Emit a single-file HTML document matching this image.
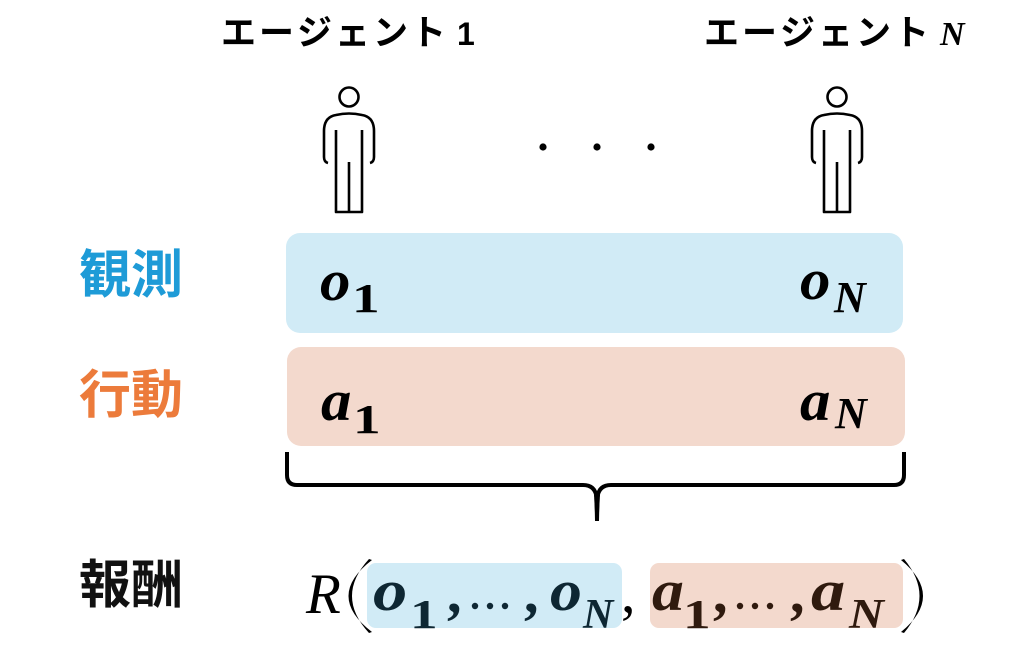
<!DOCTYPE html>
<html>
<head>
<meta charset="utf-8">
<style>
  html,body{margin:0;padding:0;background:#fff;}
  body{width:1024px;height:651px;overflow:hidden;}
  svg{display:block;}
  .jp{font-family:"Liberation Sans","Noto Sans CJK JP",sans-serif;font-weight:bold;}
  .mi{font-family:"Liberation Serif",serif;font-style:italic;font-weight:bold;}
  .mr{font-family:"Liberation Serif",serif;font-weight:bold;}
  .ri{font-family:"Liberation Serif",serif;font-style:italic;}
  .rr{font-family:"Liberation Serif",serif;}
</style>
</head>
<body>
<svg width="1024" height="651" viewBox="0 0 1024 651" xmlns="http://www.w3.org/2000/svg">
  <!-- Agent labels -->
  <text class="jp" font-size="35" y="45" fill="#000"><tspan x="221">エ</tspan><tspan x="259">ー</tspan><tspan x="297">ジ</tspan><tspan x="335">ェ</tspan><tspan x="373">ン</tspan><tspan x="411">ト</tspan></text>
  <text font-family="Liberation Sans, sans-serif" font-weight="bold" font-size="32" x="457" y="45" fill="#000">1</text>

  <text class="jp" font-size="35" y="45" fill="#000"><tspan x="704">エ</tspan><tspan x="742">ー</tspan><tspan x="780">ジ</tspan><tspan x="818">ェ</tspan><tspan x="856">ン</tspan><tspan x="894">ト</tspan></text>
  <text class="mi" font-size="34" x="940" y="45" fill="#000">N</text>

  <!-- Person icons -->
  <g fill="none" stroke="#000" stroke-width="2.6" stroke-linejoin="round">
    <circle cx="349" cy="97" r="9.5"/>
    <path d="M328,163 Q324,162 324,157 L324,131 Q324,117 336,115 Q349,112 362,115 Q374,117 374,131 L374,157 Q374,162 370,163"/>
    <path d="M336,130 L336,212 L362,212 L362,130"/>
    <path d="M349,162 L349,212"/>
  </g>
  <g transform="translate(488,0)" fill="none" stroke="#000" stroke-width="2.6" stroke-linejoin="round">
    <circle cx="349" cy="97" r="9.5"/>
    <path d="M328,163 Q324,162 324,157 L324,131 Q324,117 336,115 Q349,112 362,115 Q374,117 374,131 L374,157 Q374,162 370,163"/>
    <path d="M336,130 L336,212 L362,212 L362,130"/>
    <path d="M349,162 L349,212"/>
  </g>

  <!-- dots -->
  <circle cx="543" cy="147" r="3.6" fill="#000"/>
  <circle cx="597" cy="147" r="3.6" fill="#000"/>
  <circle cx="651" cy="147" r="3.6" fill="#000"/>

  <!-- Row labels -->
  <text class="jp" font-size="52" x="79" y="293" fill="#1e9bd7">観測</text>
  <text class="jp" font-size="52" x="79" y="413" fill="#ec7b3b">行動</text>
  <text class="jp" font-size="52" x="79" y="603" fill="#111">報酬</text>

  <!-- boxes -->
  <rect x="286" y="233" width="617" height="100" rx="14" ry="14" fill="#d1ebf6"/>
  <rect x="287" y="347" width="618" height="99" rx="14" ry="14" fill="#f3d9cd"/>

  <!-- o_1, o_N -->
  <text class="mi" font-size="58" transform="translate(320,300) scale(1.05,1)" fill="#000">o</text>
  <text class="mr" font-size="41" transform="translate(352,312) scale(1.35,1)" fill="#000">1</text>
  <text class="mi" font-size="58" transform="translate(800,299) scale(1.05,1)" fill="#000">o</text>
  <text class="mi" font-size="44" x="834" y="312" fill="#000">N</text>

  <!-- a_1, a_N -->
  <text class="mi" font-size="58" transform="translate(321,420) scale(1.05,1)" fill="#000">a</text>
  <text class="mr" font-size="41" transform="translate(353,433) scale(1.35,1)" fill="#000">1</text>
  <text class="mi" font-size="58" transform="translate(800,420) scale(1.05,1)" fill="#000">a</text>
  <text class="mi" font-size="44" x="835" y="428" fill="#000">N</text>

  <!-- brace -->
  <path d="M287,452 L287,475 Q287,485 297,485 L583,485 Q595,485 596.5,497 L597,521" fill="none" stroke="#000" stroke-width="4"/>
  <path d="M904,452 L904,475 Q904,485 894,485 L611,485 Q599,485 597.5,497 L597,521" fill="none" stroke="#000" stroke-width="4"/>
  <path d="M594,495 L600,495 L598.5,521 L595.5,521 Z" fill="#000"/>

  <!-- formula -->
  <rect x="367" y="563" width="255" height="65" rx="9" ry="9" fill="#d1ebf6"/>
  <rect x="650" y="563" width="253" height="65" rx="9" ry="9" fill="#f3d9cd"/>

  <text class="ri" font-size="57" x="306" y="613" fill="#000">R</text>
  <!-- parentheses -->
  <path d="M372,560 Q325,596 372,632 L369,633 Q335,596 369,559 Z" fill="#000"/>
  <path d="M901,560 Q945,596 901,632 L904,633 Q935,596 904,559 Z" fill="#000"/>

  <text class="mi" font-size="58" transform="translate(373,610) scale(1.18,1)" fill="#0e2733">o</text>
  <text class="mr" font-size="41" transform="translate(410,628) scale(1.35,1)" fill="#0e2733">1</text>
  <text class="mr" font-size="58" x="447" y="612" fill="#0e2733">,</text>
  <circle cx="475" cy="606" r="3.2" fill="#0e2733"/>
  <circle cx="490" cy="606" r="3.2" fill="#0e2733"/>
  <circle cx="505" cy="606" r="3.2" fill="#0e2733"/>
  <text class="mr" font-size="58" x="524" y="612" fill="#0e2733">,</text>
  <text class="mi" font-size="58" transform="translate(550,610) scale(1.1,1)" fill="#0e2733">o</text>
  <text class="mi" font-size="42" x="583" y="628" fill="#0e2733">N</text>

  <text class="rr" font-size="58" x="621" y="612" fill="#000">,</text>

  <text class="mi" font-size="58" transform="translate(652,610) scale(1.1,1)" fill="#2f1a0e">a</text>
  <text class="mr" font-size="41" transform="translate(683,628) scale(1.35,1)" fill="#2f1a0e">1</text>
  <text class="mr" font-size="58" x="713" y="612" fill="#2f1a0e">,</text>
  <circle cx="740" cy="606" r="3.2" fill="#2f1a0e"/>
  <circle cx="755" cy="606" r="3.2" fill="#2f1a0e"/>
  <circle cx="770" cy="606" r="3.2" fill="#2f1a0e"/>
  <text class="mr" font-size="58" x="790" y="612" fill="#2f1a0e">,</text>
  <text class="mi" font-size="58" transform="translate(811,610) scale(1.18,1)" fill="#2f1a0e">a</text>
  <text class="mi" font-size="42" transform="translate(849,628) scale(1.15,1)" fill="#2f1a0e">N</text>
</svg>
</body>
</html>
